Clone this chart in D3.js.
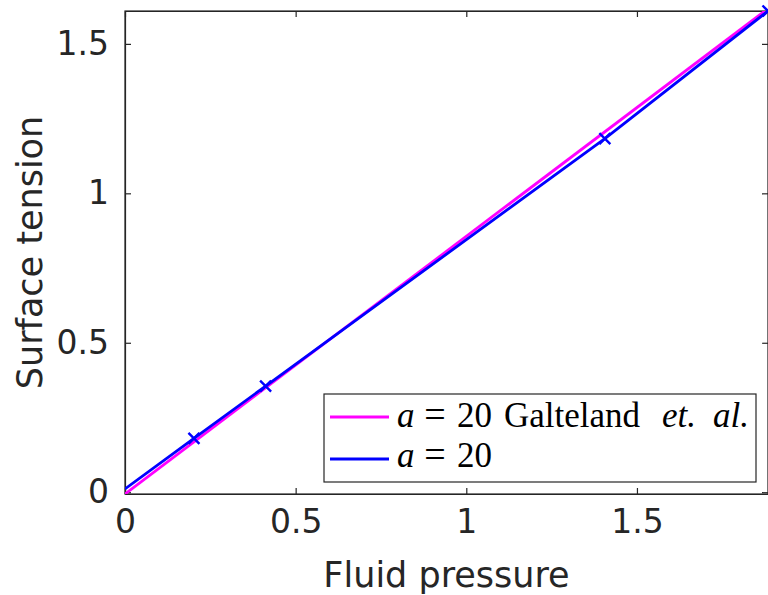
<!DOCTYPE html>
<html>
<head>
<meta charset="utf-8">
<script src="https://cdn.jsdelivr.net/npm/d3@7"></script>
<style>
  body { margin: 0; background: #fff; }
  svg { display: block; }
  text { font-family: "DejaVu Sans", sans-serif; fill: #262626; }
</style>
</head>
<body>
<div id="chart"></div>
<script>
let width = 768, height = 595;

// data
const pressure = [0, 0.202, 0.412, 1.406, 1.884];
const tension = [0.011, 0.180, 0.355, 1.183, 1.61];
const markerIdx = [1, 2, 3, 4];
const galtelandP = [0, 1.884];
const galtelandT = [-0.006, 1.618];
const xTicks = [0, 0.5, 1, 1.5];
const yTicks = [0, 0.5, 1, 1.5];
const legendLabels = ['Galteland', 'a20'];

const pLeft = 125, pRight = 768, pTop = 11, pBottom = 494;
const axisColor = '#262626';

const x = d3.scaleLinear().domain([0, 1.884]).range([pLeft, pRight]);
const y = d3.scaleLinear().domain([-0.006, 1.61]).range([pBottom, pTop]);

const svg = d3.select('#chart').append('svg')
  .attr('width', width)
  .attr('height', height);

svg.append('defs').append('clipPath').attr('id', 'clip')
  .append('rect')
    .attr('x', pLeft).attr('y', pTop)
    .attr('width', pRight - pLeft).attr('height', pBottom - pTop);

// axes (ticks inside, box on)
const fmt = d => d3.format('~g')(d);

svg.append('g')
  .attr('transform', `translate(0,${pBottom})`)
  .call(d3.axisBottom(x).tickValues(xTicks).tickSizeInner(-6).tickSizeOuter(0).tickPadding(16).tickFormat(fmt))
  .call(g => g.selectAll('text').attr('font-size', 33).attr('dy', '0.71em'));

svg.append('g')
  .attr('transform', `translate(0,${pTop})`)
  .call(d3.axisTop(x).tickValues(xTicks).tickSizeInner(-6).tickSizeOuter(0).tickFormat(''));

svg.append('g')
  .attr('transform', `translate(${pLeft},0)`)
  .call(d3.axisLeft(y).tickValues(yTicks).tickSizeInner(-6).tickSizeOuter(0).tickPadding(16).tickFormat(fmt))
  .call(g => g.selectAll('text').attr('font-size', 33));

svg.append('g')
  .attr('transform', `translate(${pRight},0)`)
  .call(d3.axisRight(y).tickValues(yTicks).tickSizeInner(-6).tickSizeOuter(0).tickFormat(''));

svg.selectAll('.domain, .tick line')
  .attr('stroke', axisColor)
  .attr('stroke-width', 1.2);
svg.selectAll('.tick text').style('font-family', '"DejaVu Sans", sans-serif').attr('fill', axisColor);

svg.append('rect')
  .attr('x', pLeft).attr('y', pTop)
  .attr('width', pRight - pLeft).attr('height', pBottom - pTop)
  .attr('fill', 'none')
  .attr('stroke', axisColor)
  .attr('stroke-width', 1.2);

// lines
const line = d3.line().x(d => x(d[0])).y(d => y(d[1]));
const plot = svg.append('g').attr('clip-path', 'url(#clip)');

plot.append('path')
  .datum(d3.zip(galtelandP, galtelandT))
  .attr('d', line)
  .attr('fill', 'none')
  .attr('stroke', '#ff00ff')
  .attr('stroke-width', 2.8);

plot.append('path')
  .datum(d3.zip(pressure, tension))
  .attr('d', line)
  .attr('fill', 'none')
  .attr('stroke', '#0000ff')
  .attr('stroke-width', 2.8);

// x markers
const ms = 5.5;
svg.append('g').selectAll('path')
  .data(markerIdx.map(i => [pressure[i], tension[i]]))
  .join('path')
    .attr('d', d => {
      const cx = x(d[0]), cy = y(d[1]);
      return `M${cx - ms},${cy - ms}L${cx + ms},${cy + ms}M${cx - ms},${cy + ms}L${cx + ms},${cy - ms}`;
    })
    .attr('stroke', '#0000ff')
    .attr('stroke-width', 2.4);

// axis labels
svg.append('text')
  .attr('x', (pLeft + pRight) / 2)
  .attr('y', 587)
  .attr('text-anchor', 'middle')
  .attr('font-size', 35)
  .text('Fluid pressure');

svg.append('text')
  .attr('transform', `translate(42,${(pTop + pBottom) / 2}) rotate(-90)`)
  .attr('text-anchor', 'middle')
  .attr('font-size', 35)
  .text('Surface tension');

// legend
const leg = svg.append('g');
leg.append('rect')
  .attr('x', 324).attr('y', 394)
  .attr('width', 432).attr('height', 88)
  .attr('fill', '#fff')
  .attr('stroke', axisColor)
  .attr('stroke-width', 1.2);

const legColors = ['#ff00ff', '#0000ff'];
const legY = [417, 459];
leg.selectAll('line')
  .data(legendLabels)
  .join('line')
    .attr('x1', 330).attr('x2', 389)
    .attr('y1', (d, i) => legY[i]).attr('y2', (d, i) => legY[i])
    .attr('stroke', (d, i) => legColors[i])
    .attr('stroke-width', 2.8);

// LaTeX-like legend text, pieces placed individually
const serif = '"Liberation Serif", "DejaVu Serif", serif';
const legBase = [427, 467];
function legText(i, parts) {
  parts.forEach(p => {
    leg.append('text')
      .attr('x', p[0])
      .attr('y', legBase[i])
      .attr('font-size', p[3] || 35)
      .attr('text-anchor', p[4] || 'start')
      .attr('font-style', p[2] ? 'italic' : 'normal')
      .style('font-family', serif)
      .style('fill', '#000')
      .text(p[1]);
  });
}
legText(0, [[397, 'a', 1], [435, '=', 0, 38, 'middle'], [457, '20', 0], [504, 'Galteland', 0], [662, 'et.', 1], [713, 'al.', 1]]);
legText(1, [[397, 'a', 1], [435, '=', 0, 38, 'middle'], [457, '20', 0]]);
</script>
</body>
</html>
